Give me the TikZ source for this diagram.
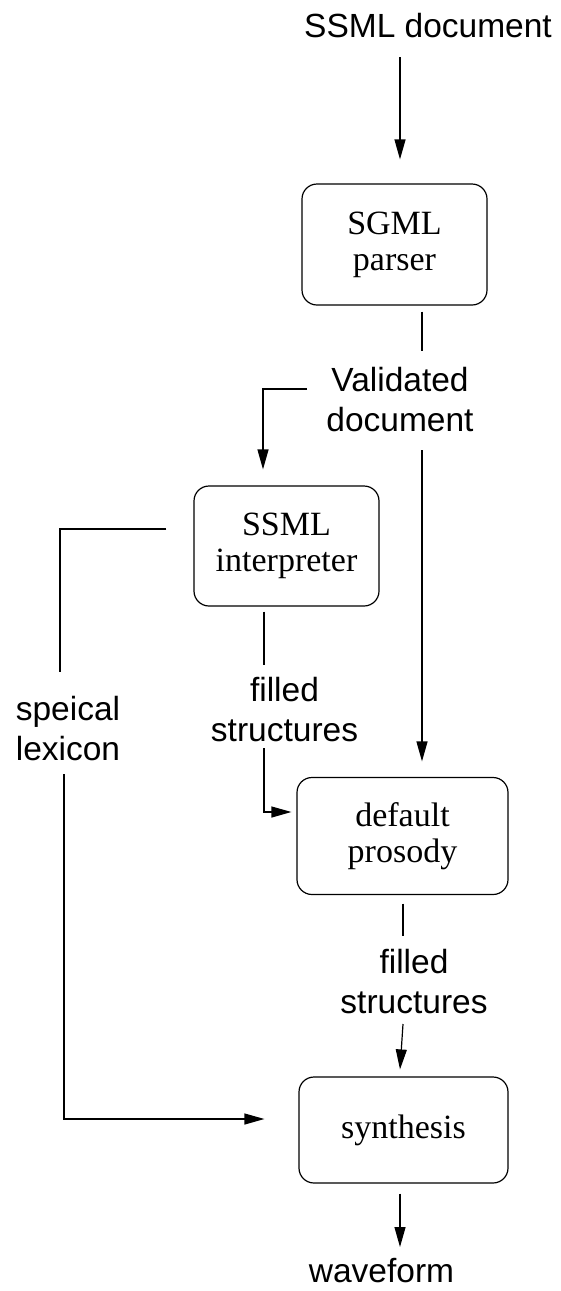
\documentclass[tikz,border=0pt]{standalone}
\usepackage{fontspec}
\setmainfont{Liberation Serif}
\setsansfont{Liberation Sans}
\usepackage{tikz}
\usetikzlibrary{arrows.meta}

\begin{document}
\begin{tikzpicture}[x=1pt, y=-1pt,
    stage/.style={draw, line width=1.2pt, rounded corners=15pt, align=center,
                  font=\fontsize{34}{36}\selectfont, inner sep=0pt},
    data/.style={align=center, inner sep=0pt,
                 font=\fontsize{33.5}{40}\selectfont\sffamily},
    link/.style={line width=1.2pt},
    arr/.style={line width=1.2pt, -{Triangle[length=20pt, width=11pt]}}]
  \useasboundingbox (0,0) rectangle (561,1291);

  % processing stages
  \node[stage, minimum width=185pt, minimum height=121pt] (sgml) at (394.5,244.5) {SGML\\parser};
  \node[stage, minimum width=185pt, minimum height=120pt] (interp) at (286.5,546) {SSML\\interpreter};
  \node[stage, minimum width=211pt, minimum height=117pt] (prosody) at (402.5,836) {default\\prosody};
  \node[stage, minimum width=209pt, minimum height=106pt] (synth) at (403.5,1130) {synthesis};

  % data between the stages
  \node[data, anchor=base] (ssmldoc) at (428,37) {SSML document};
  \node[data] (valid) at (400,400) {Validated\\document};
  \node[data] (lexicon) at (68,728.5) {speical\\lexicon};
  \node[data] (filled1) at (284.5,710) {filled\\structures};
  \node[data] (filled2) at (414,981.5) {filled\\structures};
  \node[data, anchor=base] (wave) at (381.5,1282) {waveform};

  \draw[arr] ([xshift=-28pt, yshift=-20pt]ssmldoc.base) -- ([xshift=5.5pt, yshift=24pt]sgml.north);
  \draw[link] ([xshift=27.5pt, yshift=-6pt]sgml.south) -- ([xshift=22pt, yshift=49pt]valid.center);
  \draw[arr] ([xshift=-93pt, yshift=11pt]valid.center) -| ([xshift=-23.5pt, yshift=16pt]interp.north);
  \draw[arr] ([xshift=22pt, yshift=-50pt]valid.center) -- ([xshift=19.5pt, yshift=15.5pt]prosody.north);
  \draw[link] ([xshift=-27pt, yshift=17pt]interp.west) -| ([xshift=-8pt, yshift=56.5pt]lexicon.center);
  \draw[link] ([xshift=-22.5pt, yshift=-5pt]interp.south) -- ([xshift=-20.5pt, yshift=45pt]filled1.center);
  \draw[arr] ([xshift=-20.5pt, yshift=-38pt]filled1.center) |- ([xshift=-5pt, yshift=24pt]prosody.west);
  \draw[link] ([xshift=0.5pt, yshift=-8.5pt]prosody.south) -- ([xshift=-11pt, yshift=45.5pt]filled2.center);
  \draw[arr] ([xshift=-11pt, yshift=-42.5pt]filled2.center) -- ([xshift=-3.5pt, yshift=7pt]synth.north);
  \draw[arr] ([xshift=-4pt, yshift=-45.5pt]lexicon.center) |- ([xshift=-34pt, yshift=11pt]synth.west);
  \draw[arr] ([xshift=-3.5pt, yshift=-10pt]synth.south) -- ([xshift=18.5pt, yshift=35pt]wave.base);
\end{tikzpicture}
\end{document}
